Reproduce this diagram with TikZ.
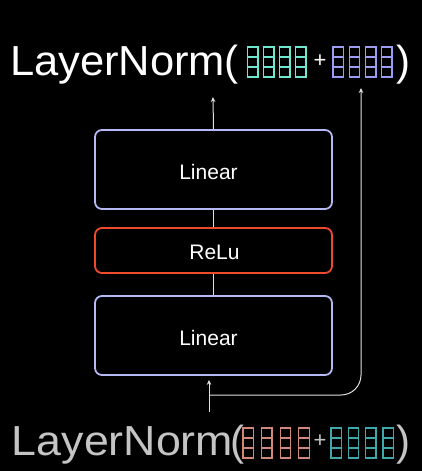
\documentclass[tikz,border=0pt]{standalone}
\usepackage{fontspec}
\setmainfont{Liberation Sans}
\usetikzlibrary{arrows.meta}
\definecolor{boxblue}{HTML}{B4B8F4}
\definecolor{relured}{HTML}{F04A2C}
\definecolor{vcyan}{HTML}{70E8D0}
\definecolor{vlav}{HTML}{9C9CF4}
\definecolor{vsalmon}{HTML}{D08878}
\definecolor{vteal}{HTML}{40A8A8}
\definecolor{lngray}{HTML}{C4C4C4}
\definecolor{wire}{HTML}{E0E0E0}
\newcommand\drawvec[4]{%
  \foreach \i in {0,1,2,3}{%
    \draw[draw=#4, line width=1.3pt] ({#1+\i*#3},#2) rectangle ++(10.5,30);
    \draw[draw=#4, line width=1.3pt] ({#1+\i*#3},{#2+10}) -- ++(10.5,0);
    \draw[draw=#4, line width=1.3pt] ({#1+\i*#3},{#2+20}) -- ++(10.5,0);
  }}
\begin{document}
\begin{tikzpicture}[x=1pt,y=-1pt,
  box/.style={draw=boxblue, line width=1.8pt, rounded corners=7pt, minimum width=237pt, text=white, font=\fontsize{21}{24}\selectfont, inner sep=0pt},
  big/.style={font=\fontsize{42}{48}\selectfont, inner sep=0pt, anchor=base west},
  plus/.style={font=\fontsize{22}{24}\selectfont, inner sep=0pt},
  wireline/.style={draw=wire, line width=1pt},
  tip/.style={-{Stealth[length=5pt,width=4.5pt]}}]
\useasboundingbox (0,0) rectangle (422,471);
\fill[black] (0,0) rectangle (422,471);
% boxes
\node[box, minimum height=79pt] (lin2) at (213.5,169.5) {};
\node[text=white, font=\fontsize{21}{24}\selectfont, inner sep=0pt, anchor=base] (lin2t) at (208.5,179) {Linear};
\node[box, draw=relured, minimum height=45pt] (relu) at (213.5,250.5) {};
\node[text=white, font=\fontsize{21}{24}\selectfont, inner sep=0pt, anchor=base] (relut) at (214.5,259) {ReLu};
\node[box, minimum height=79pt] (lin1) at (213.5,335.5) {};
\node[text=white, font=\fontsize{21}{24}\selectfont, inner sep=0pt, anchor=base] (lin1t) at (208.5,345) {Linear};
% top expression
\node[big, text=white, font=\fontsize{42}{48}\selectfont\addfontfeature{FakeStretch=1.036}] (ln2) at (9.8,75) {LayerNorm};
\node[big, text=white] (lp2) at (224.5,75) {(};
\drawvec{247.5}{47}{16}{vcyan}
\node[plus, text=white] (pl2) at (320,61) {+};
\drawvec{333}{47}{16.2}{vlav}
\node[big, text=white] (rp2) at (396,75) {)};
% bottom expression
\node[big, text=lngray, font=\fontsize{42}{48}\selectfont\addfontfeature{FakeStretch=1.065}] (ln1) at (11.7,455) {LayerNorm};
\node[big, text=lngray] (lp1) at (230.5,455) {(};
\drawvec{243}{428}{18.6}{vsalmon}
\node[plus, text=lngray] (pl1) at (320,441) {+};
\drawvec{331}{428}{17.3}{vteal}
\node[big, text=lngray] (rp1) at (396,455) {)};
% connectors
\coordinate (in) at (209,412);
\coordinate (br) at (209,395);
\coordinate (outtip) at (213,97);
\coordinate (restip) at (361,88);
\draw[wireline] (lin1.north) -- (relu.south);
\draw[wireline] (relu.north) -- (lin2.south);
\draw[wireline, tip] (lin2.north) -- (outtip);
\draw[wireline, tip] (in) -- ([yshift=-4pt]in |- lin1.south);
\draw[wireline, tip, rounded corners=20pt] (br) -| (restip);
\end{tikzpicture}
\end{document}
